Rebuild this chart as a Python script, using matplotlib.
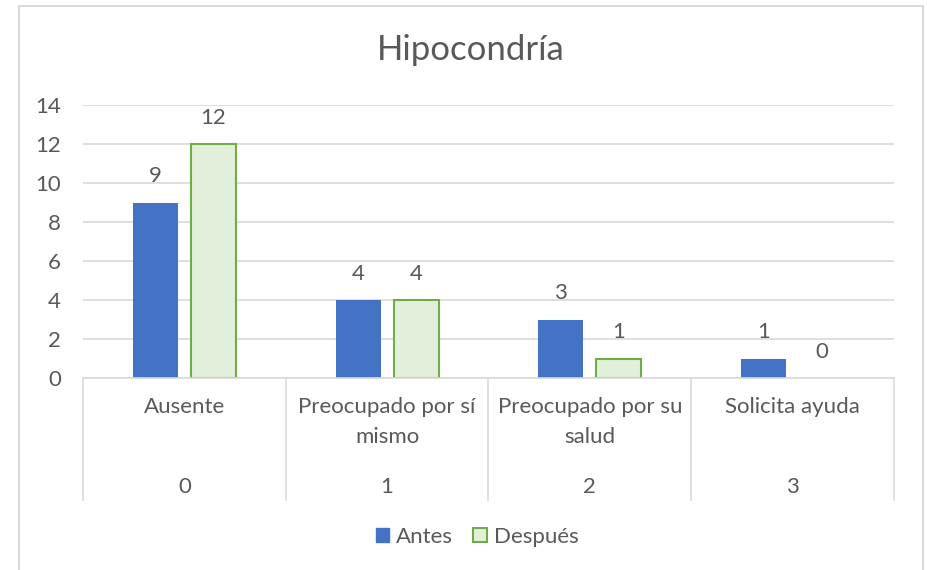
import matplotlib
matplotlib.use("Agg")
import matplotlib.pyplot as plt
import matplotlib.transforms as mtransforms
from matplotlib.patches import Patch
from matplotlib.lines import Line2D
import numpy as np

plt.rcParams['font.family'] = ['Lato', 'DejaVu Sans']

title = "Hipocondría"
categories = ["Ausente", "Preocupado por sí\nmismo", "Preocupado por su\nsalud", "Solicita ayuda"]
codes = ["0", "1", "2", "3"]
series_names = ["Antes", "Después"]
antes = [9, 4, 3, 1]
despues = [12, 4, 1, 0]

TXT = "#595959"
GRID = "#D9D9D9"
BLUE = "#4472C4"
GFILL = "#E2EFDA"
GEDGE = "#70AD47"
FS = 16

W, H = 928, 570
fig = plt.figure(figsize=(W / 100, H / 100), dpi=100)

# chart frame
fig.patches.append(plt.Rectangle((19 / W, -0.02), (923 - 19) / W, 1 - 6 / H + 0.02,
                                 transform=fig.transFigure, fill=False,
                                 edgecolor=GRID, linewidth=1.5))

ax = fig.add_axes([83 / W, 1 - 378 / H, (894 - 83) / W, (378 - 105) / H])
x = np.arange(len(categories))
bw = 0.222
off = 0.143
ax.bar(x - off, antes, width=bw, color=BLUE, zorder=3)
lw = [1.5 if v > 0 else 0 for v in despues]
ax.bar(x + off, despues, width=bw, color=GFILL, edgecolor=GEDGE, linewidth=lw, zorder=3)

for xi, v in zip(x, antes):
    ax.annotate(str(v), (xi - off, v), xytext=(0, 19), textcoords="offset points",
                ha="center", va="center", fontsize=FS, color=TXT)
for xi, v in zip(x, despues):
    ax.annotate(str(v), (xi + off, v), xytext=(0, 19), textcoords="offset points",
                ha="center", va="center", fontsize=FS, color=TXT)

ax.set_xlim(-0.5, len(categories) - 0.5)
ax.set_ylim(0, 14)
ax.set_yticks(range(0, 15, 2))
ax.tick_params(axis="y", length=0, pad=16, labelsize=FS, labelcolor=TXT)
ax.set_xticks([])
ax.grid(axis="y", color=GRID, linewidth=1.2, zorder=0)
for s in ["top", "right", "left"]:
    ax.spines[s].set_visible(False)
ax.spines["bottom"].set_color(GRID)
ax.spines["bottom"].set_linewidth(1.2)
ax.spines["bottom"].set_zorder(4)

trans = mtransforms.blended_transform_factory(ax.transData, ax.transAxes)
hpx = 378 - 105
for b in np.arange(-0.5, len(categories), 1.0):
    ax.add_line(Line2D([b, b], [0, -(500 - 378) / hpx], transform=trans,
                       color=GRID, linewidth=1.2, clip_on=False))
for xi, lab, c in zip(x, categories, codes):
    ax.text(xi, -(397 - 378) / hpx, lab, transform=trans, ha="center", va="top",
            fontsize=FS, color=TXT, linespacing=1.65)
    ax.text(xi, -(487 - 378) / hpx, c, transform=trans, ha="center", va="center",
            fontsize=FS, color=TXT)

fig.text(471 / W, 1 - 50 / H, title, ha="center", va="center", fontsize=25, color=TXT)

handles = [Patch(facecolor=BLUE, edgecolor=BLUE),
           Patch(facecolor=GFILL, edgecolor=GEDGE, linewidth=1.5)]
fig.legend(handles, series_names, loc="center", bbox_to_anchor=(477 / W, 1 - 537 / H),
           ncol=2, frameon=False, fontsize=FS, labelcolor=TXT,
           handlelength=0.62, handleheight=0.62, handletextpad=0.3, columnspacing=0.9)

fig.savefig("out.png", dpi=100)
